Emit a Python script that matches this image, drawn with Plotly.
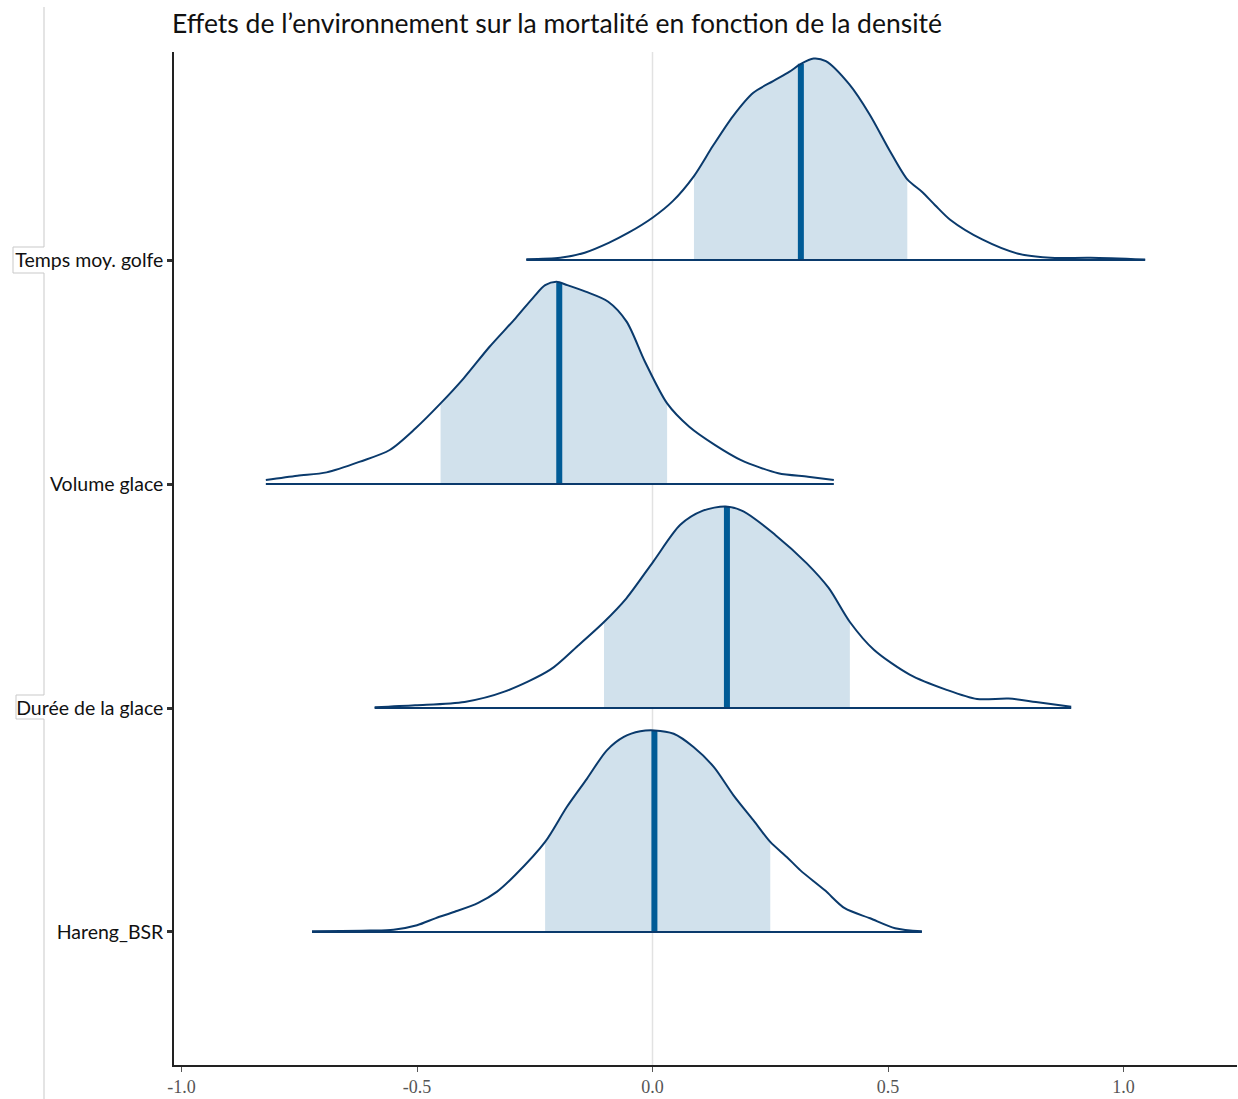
import numpy as np
import plotly.graph_objects as go

# Posterior density curves (scaled heights) for each environmental effect
labels = ["Hareng_BSR", "Durée de la glace", "Volume glace", "Temps moy. golfe"]

temps_x = [-0.268, -0.196, -0.144, -0.093, -0.051, 0.0, 0.043, 0.088, 0.128, 0.171, 0.214,
           0.256, 0.291, 0.315, 0.342, 0.368, 0.418, 0.461, 0.504, 0.541, 0.572, 0.600,
           0.632, 0.700, 0.777, 0.845, 0.930, 1.046]
temps_d = [0.004, 0.010, 0.033, 0.077, 0.122, 0.189, 0.263, 0.375, 0.509, 0.643, 0.747,
           0.799, 0.841, 0.876, 0.900, 0.888, 0.784, 0.650, 0.487, 0.360, 0.305, 0.245,
           0.180, 0.092, 0.028, 0.010, 0.010, 0.002]

vol_x = [-0.821, -0.754, -0.692, -0.621, -0.558, -0.503, -0.450, -0.401, -0.346, -0.291,
         -0.252, -0.228, -0.204, -0.181, -0.142, -0.094, -0.055, -0.016, 0.031, 0.078,
         0.133, 0.188, 0.267, 0.330, 0.385]
vol_d = [0.018, 0.037, 0.052, 0.100, 0.152, 0.249, 0.360, 0.472, 0.613, 0.740,
         0.836, 0.888, 0.903, 0.888, 0.859, 0.814, 0.725, 0.546, 0.360, 0.256,
         0.174, 0.107, 0.048, 0.033, 0.018]

dur_x = [-0.590, -0.504, -0.399, -0.313, -0.217, -0.160, -0.103, -0.055, 0.002, 0.059,
         0.107, 0.155, 0.193, 0.260, 0.327, 0.374, 0.419, 0.470, 0.546, 0.623, 0.689,
         0.756, 0.814, 0.889]
dur_d = [0.003, 0.012, 0.027, 0.074, 0.171, 0.275, 0.384, 0.491, 0.655, 0.818,
         0.881, 0.900, 0.878, 0.774, 0.647, 0.536, 0.384, 0.260, 0.149, 0.082, 0.040,
         0.042, 0.027, 0.006]

har_x = [-0.723, -0.600, -0.550, -0.500, -0.460, -0.420, -0.370, -0.330, -0.292, -0.228,
         -0.182, -0.139, -0.097, -0.061, -0.026, 0.004, 0.045, 0.087, 0.130, 0.172, 0.214,
         0.250, 0.285, 0.314, 0.366, 0.408, 0.462, 0.515, 0.572]
har_d = [0.003, 0.006, 0.010, 0.030, 0.062, 0.090, 0.130, 0.180, 0.253, 0.402, 0.558,
         0.685, 0.811, 0.871, 0.896, 0.900, 0.885, 0.826, 0.737, 0.610, 0.499, 0.402,
         0.335, 0.275, 0.186, 0.106, 0.061, 0.017, 0.003]

# Credible interval bounds and posterior medians (bottom to top)
ci_low = [-0.228, -0.103, -0.450, 0.088]
ci_high = [0.250, 0.419, 0.031, 0.541]
medians = [0.004, 0.158, -0.198, 0.315]

x_ticks = [-1.0, -0.5, 0.0, 0.5, 1.0]
x_tick_text = ["-1.0", "-0.5", "0.0", "0.5", "1.0"]

curves = [(har_x, har_d), (dur_x, dur_d), (vol_x, vol_d), (temps_x, temps_d)]

LIGHT = "#d1e1ec"
OUTLINE = "#0a3a6c"
MEDIAN = "#005b96"
SMOOTH = 0.8

fig = go.Figure()

for i, (xs, ds) in enumerate(curves):
    base = i + 1
    xs = np.asarray(xs)
    ds = np.asarray(ds)
    lo, hi = ci_low[i], ci_high[i]
    inside = (xs >= lo - 1e-9) & (xs <= hi + 1e-9)

    # baseline under the shaded interval
    fig.add_trace(go.Scatter(x=[lo, hi], y=[base, base], mode="lines",
                             line=dict(width=0, color=LIGHT), hoverinfo="skip",
                             showlegend=False))
    # shaded credible interval
    fig.add_trace(go.Scatter(x=xs[inside], y=base + ds[inside], mode="lines",
                             line=dict(width=0, color=LIGHT, shape="spline",
                                       smoothing=SMOOTH),
                             fill="tonexty", fillcolor=LIGHT, hoverinfo="skip",
                             showlegend=False))
    # median segment
    m = medians[i]
    hm = float(np.interp(m, xs, ds))
    fig.add_trace(go.Scatter(x=[m, m], y=[base, base + hm], mode="lines",
                             line=dict(width=6, color=MEDIAN), hoverinfo="skip",
                             showlegend=False))
    # density outline
    fig.add_trace(go.Scatter(x=xs, y=base + ds, mode="lines",
                             line=dict(width=2, color=OUTLINE, shape="spline",
                                       smoothing=SMOOTH),
                             name=labels[i], showlegend=False))
    # bottom edge of the ridge
    fig.add_trace(go.Scatter(x=[xs[0], xs[-1]], y=[base, base], mode="lines",
                             line=dict(width=2, color=OUTLINE), hoverinfo="skip",
                             showlegend=False))

# plot-area geometry (pixels) used for the decorative frame lines
W, H = 1238, 1099
L, R, T, B = 174, 1237, 52, 1065


def px(xp):
    return (xp - L) / (R - L)


def py(yp):
    return (B - yp) / (B - T)


frame_color = "#c9c9c9"
frame_segments = [
    ((44, 7), (44, 247)),
    ((13, 247), (44, 247)),
    ((13, 247), (13, 273)),
    ((13, 273), (44, 273)),
    ((44, 273), (44, 695)),
    ((16, 695), (44, 695)),
    ((16, 695), (16, 719)),
    ((16, 719), (44, 719)),
    ((44, 719), (44, 1099)),
]
shapes = []
for (x0, y0), (x1, y1) in frame_segments:
    shapes.append(dict(type="line", xref="paper", yref="paper",
                       x0=px(x0), y0=py(y0), x1=px(x1), y1=py(y1),
                       line=dict(color=frame_color, width=1), layer="below"))

# zero reference line
shapes.append(dict(type="line", xref="x", yref="paper", x0=0, x1=0, y0=0, y1=1,
                   line=dict(color="#e2e2e2", width=1.5), layer="below"))

fig.update_layout(
    width=W, height=H,
    margin=dict(l=L, r=W - R, t=T, b=H - B),
    paper_bgcolor="white", plot_bgcolor="white",
    title=dict(text="Effets de l’environnement sur la mortalité en fonction de la densité",
               x=172 / W, xref="container", xanchor="left",
               y=1 - 24 / H, yref="container", yanchor="middle",
               font=dict(family="Lato", size=26.5, color="#111111")),
    shapes=shapes,
    xaxis=dict(range=[-1.016, 1.241], tickvals=x_ticks, ticktext=x_tick_text,
               showgrid=False, zeroline=False, showline=True, linecolor="#222222",
               linewidth=1.5, ticks="outside", ticklen=5, tickcolor="#555555",
               tickwidth=1,
               tickfont=dict(family="Liberation Serif", size=18, color="#555555")),
    yaxis=dict(range=[0.406, 4.929], tickvals=[1, 2, 3, 4], ticktext=labels,
               showgrid=False, zeroline=False, showline=True, linecolor="#222222",
               linewidth=1.5, ticks="outside", ticklen=5, tickwidth=3,
               tickcolor="#333333",
               tickfont=dict(family="Lato", size=19.5, color="#111111")),
)

fig.write_html("out.html")
